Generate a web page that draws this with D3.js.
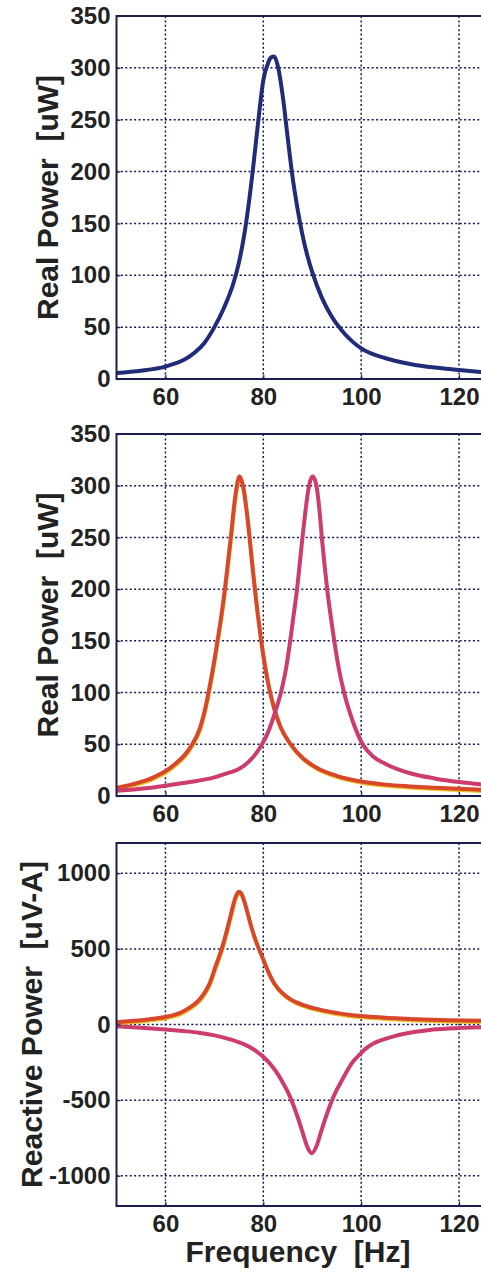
<!DOCTYPE html>
<html>
<head>
<meta charset="UTF-8">
<title>Real and Reactive Power vs Frequency</title>
<script src="https://d3js.org/d3.v7.min.js"></script>
<style>
    body { margin: 0; background: #fff; }
    text { font-family: "Liberation Sans", Arial, sans-serif; font-weight: bold; fill: #222; }
    .grid { stroke: #121850; stroke-width: 1.5; stroke-dasharray: 2,2.4; fill: none; }
    .frame { stroke: #1b1f50; stroke-width: 2; fill: none; }
    .curve { fill: none; stroke-width: 4; stroke-linejoin: round; stroke-linecap: round; }
</style>
</head>
<body>
<svg id="chart" width="481" height="1272"></svg>
<script>
// x axis (Hz)
var freqDomain = [50, 125];
var freqTicks = [60, 80, 100, 120];

// y axes
var realDomain = [0, 350];
var realTicks = [0, 50, 100, 150, 200, 250, 300, 350];
var reactDomain = [-1200, 1200];
var reactTicks = [-1000, -500, 0, 500, 1000];

// panel 1 - single resonator, real power [uW]
var topFreq  = [50, 55, 60, 62, 64, 66, 68, 70, 72, 74, 75, 76, 77, 78, 79, 80, 81, 81.6, 82.2, 82.5, 83, 84, 85, 86, 87, 88, 89, 90, 92, 94, 96, 98, 100, 105, 110, 115, 120, 125];
var topPower = [5.8, 8, 12, 15, 19, 25.5, 35, 50, 69, 94, 112, 136, 168, 207, 250, 288, 305, 310, 311, 309, 301, 272, 232, 194, 164, 139, 119, 103, 78, 60, 47, 37, 29.5, 20, 14.5, 11, 8.7, 6.5];

// panel 2 - two resonators, real power [uW]
var realFreqA  = [50, 53, 56, 58, 60, 62, 64, 65.6, 67, 68, 68.8, 69.7, 70.7, 71.5, 72.2, 72.8, 73.4, 73.9, 74.4, 74.8, 75.1, 75.5, 76.0, 76.5, 77.1, 77.6, 78.2, 78.8, 79.5, 80.3, 81.2, 82.2, 83.5, 85.6, 88, 91, 95, 100, 105, 110, 115, 120, 125];
var realPowerA = [8, 11, 15, 19, 24, 31, 40, 51, 65, 82, 100, 123, 152, 177, 202, 227, 252, 275, 294, 305, 309, 306, 296, 279, 254, 230, 203, 178, 152, 127, 104, 85, 67, 50, 37, 27, 19.5, 14, 11, 9.3, 8, 7, 6];
var realFreqB  = [50, 55, 60, 65, 70, 73, 75, 77, 79.5, 81, 82.2, 83.6, 84.6, 85.5, 86.2, 86.9, 87.5, 88.0, 88.6, 89.2, 89.6, 90.1, 90.6, 91.0, 91.5, 92.0, 92.5, 93.1, 93.8, 94.5, 95.4, 96.5, 98.3, 100.3, 102.5, 105, 110, 115, 120, 125];
var realPowerB = [5, 7, 10, 13.5, 18, 22.5, 26, 33, 48, 62, 78, 100, 122, 150, 175, 200, 227, 250, 275, 296, 305, 309, 305, 296, 275, 248, 224, 198, 173, 150, 124, 100, 72, 50, 38, 31, 22, 17, 13.5, 11];

// panel 3 - two resonators, reactive power [uV-A]
var reactFreqA = [50, 53, 56, 58, 60, 62, 63.4, 65, 66.8, 68, 68.9, 70.2, 71.5, 72.5, 73.4, 74.2, 74.7, 75.1, 75.5, 76.1, 76.8, 77.6, 78.4, 79.1, 80.0, 81, 82, 83, 84, 85.5, 87.3, 90.7, 94, 97.5, 104.3, 111.1, 118, 125];
var reactA     = [15, 23, 32, 40, 50, 65, 83, 113, 160, 210, 262, 380, 500, 615, 730, 830, 868, 877, 866, 815, 735, 640, 560, 500, 430, 350, 285, 238, 205, 168, 140, 105, 82, 65, 46, 35, 28, 24];
var reactFreqB = [50, 55, 60, 63.5, 66.8, 70, 73.6, 76, 78.4, 80.2, 81.8, 83, 84, 85, 86, 87, 88, 89, 89.9, 90.8, 91.8, 92.8, 93.8, 94.8, 95.8, 96.8, 98, 100, 101, 102.5, 104.3, 107, 111.1, 114, 118, 125];
var reactB     = [-11, -21, -33, -43, -54, -72, -102, -130, -172, -220, -276, -330, -385, -445, -520, -610, -710, -810, -852, -810, -710, -610, -520, -445, -385, -325, -260, -189, -158, -125, -102, -75, -48, -36, -26, -17];

var navy = "#202c78", orange = "#d9472b", yellow = "#e9c32a", pink = "#cc3c6c";

function zip(xs, ys) { return xs.map(function (x, i) { return [x, ys[i]]; }); }

var panels = [
    { top: 16, bottom: 379, domain: realDomain, ticks: realTicks, label: "Real Power  [uW]", labelX: 58,
      series: [{ data: zip(topFreq, topPower), color: navy }] },
    { top: 434, bottom: 796, domain: realDomain, ticks: realTicks, label: "Real Power  [uW]", labelX: 58,
      series: [{ data: zip(realFreqA, realPowerA), color: orange, edge: yellow },
               { data: zip(realFreqB, realPowerB), color: pink }] },
    { top: 843, bottom: 1206, domain: reactDomain, ticks: reactTicks, label: "Reactive Power  [uV-A]", labelX: 42,
      series: [{ data: zip(reactFreqA, reactA), color: orange, edge: yellow },
               { data: zip(reactFreqB, reactB), color: pink }] }
];

var svg = d3.select("#chart");
var x = d3.scaleLinear().domain(freqDomain).range([116.5, 483.5]);

panels.forEach(function (p, k) {
    var y = d3.scaleLinear().domain(p.domain).range([p.bottom, p.top]);
    var g = svg.append("g");

    g.append("clipPath").attr("id", "clip" + k)
        .append("rect")
        .attr("x", x.range()[0]).attr("y", p.top)
        .attr("width", x.range()[1] - x.range()[0]).attr("height", p.bottom - p.top);

    // dotted grid
    g.selectAll(".vgrid").data(freqTicks).enter().append("line")
        .attr("class", "grid")
        .attr("x1", function (d) { return x(d); }).attr("x2", function (d) { return x(d); })
        .attr("y1", p.top).attr("y2", p.bottom);
    g.selectAll(".hgrid").data(p.ticks.filter(function (d) { return d > p.domain[0] && d < p.domain[1]; }))
        .enter().append("line")
        .attr("class", "grid")
        .attr("x1", x.range()[0]).attr("x2", x.range()[1])
        .attr("y1", function (d) { return y(d); }).attr("y2", function (d) { return y(d); });

    // curves
    var line = d3.line()
        .x(function (d) { return x(d[0]); })
        .y(function (d) { return y(d[1]); })
        .curve(d3.curveMonotoneX);

    var plot = g.append("g").attr("clip-path", "url(#clip" + k + ")");
    p.series.forEach(function (s) {
        if (s.edge) {
            plot.append("path").datum(s.data)
                .attr("class", "curve")
                .attr("transform", "translate(0.5,1.5)")
                .style("stroke", s.edge)
                .style("stroke-width", 3.5)
                .attr("d", line);
        }
        plot.append("path").datum(s.data)
            .attr("class", "curve")
            .style("stroke", s.color)
            .attr("d", line);
    });

    // axes
    var fmt = function (d) { return String(d); };
    var yAxis = d3.axisLeft(y).tickValues(p.ticks).tickFormat(fmt).tickSize(-4).tickPadding(6);
    var xAxis = d3.axisBottom(x).tickValues(freqTicks).tickFormat(fmt).tickSize(-4).tickPadding(9);

    var ya = g.append("g").attr("transform", "translate(" + x.range()[0] + ",0)").call(yAxis);
    var xa = g.append("g").attr("transform", "translate(0," + p.bottom + ")").call(xAxis);
    [ya, xa].forEach(function (a) {
        a.select(".domain").remove();
        a.selectAll(".tick line").attr("stroke", "#1b1f50").attr("stroke-width", 1.2);
        a.selectAll(".tick text").style("font-size", "24px").attr("fill", "#222");
    });
    xa.selectAll(".tick text").attr("dy", "0.72em");

    // frame (right edge falls outside the picture)
    g.append("rect").attr("class", "frame")
        .attr("x", x.range()[0]).attr("y", p.top)
        .attr("width", x.range()[1] - x.range()[0]).attr("height", p.bottom - p.top);

    g.append("text")
        .attr("transform", "translate(" + p.labelX + "," + ((p.top + p.bottom) / 2) + ") rotate(-90)")
        .attr("text-anchor", "middle")
        .style("white-space", "pre")
        .style("font-size", "30px")
        .text(p.label);
});

svg.append("text")
    .attr("x", 298).attr("y", 1262)
    .attr("text-anchor", "middle")
    .style("white-space", "pre")
    .style("font-size", "30px")
    .text("Frequency  [Hz]");
</script>
</body>
</html>
